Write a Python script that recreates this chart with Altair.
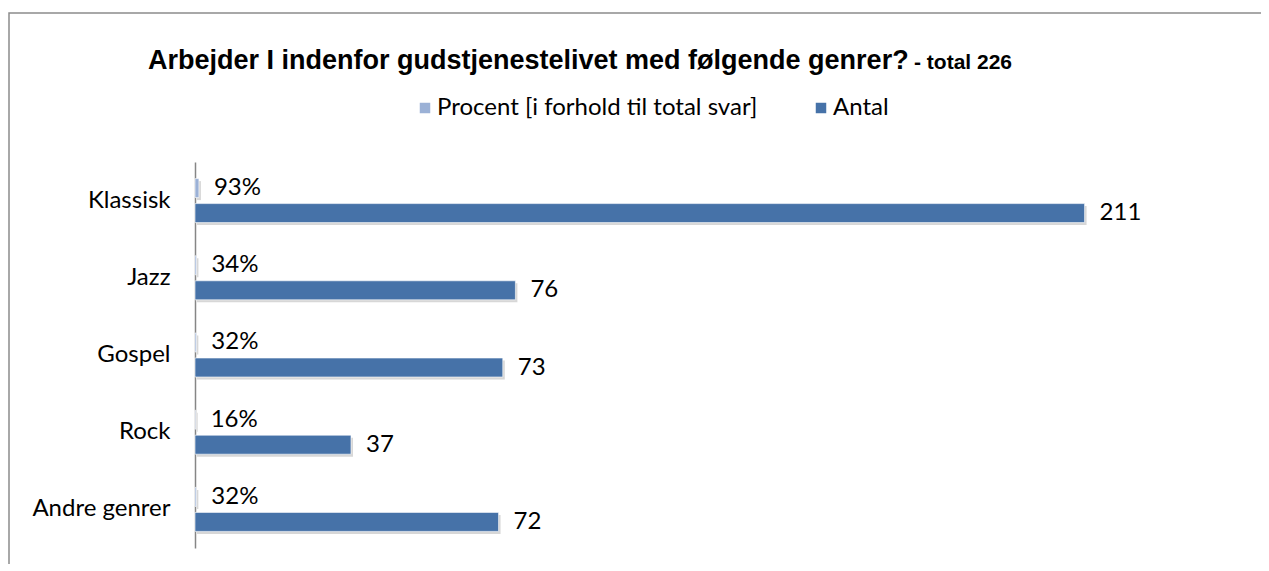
import altair as alt
import pandas as pd

categories = ["Klassisk", "Jazz", "Gospel", "Rock", "Andre genrer"]
procent = [93, 34, 32, 16, 32]
antal = [211, 76, 73, 37, 72]
series = ["Procent [i forhold til total svar]", "Antal"]
colors = ["#9BB1D6", "#4672A8"]
title_main = ["Arbejder I indenfor gudstjenestelivet med følgende genrer?"]
title_sub = ["- total 226"]

rows = []
for c, p, a in zip(categories, procent, antal):
    rows.append({"kategori": c, "serie": series[0], "vaerdi": p / 100, "tekst": f"{p}%"})
    rows.append({"kategori": c, "serie": series[1], "vaerdi": a, "tekst": str(a)})
df = pd.DataFrame(rows)

FONT = "Lato"
FS = 24

y = alt.Y(
    "kategori:N",
    sort=categories,
    scale=alt.Scale(paddingInner=0.43, paddingOuter=0.215),
    axis=alt.Axis(
        title=None, ticks=False, labelFont=FONT, labelFontSize=FS,
        labelColor="#000000", labelPadding=25, domainColor="#868686",
        domainWidth=1.5, labelLimit=400,
    ),
)
yoff = alt.YOffset("serie:N", sort=series,
                   scale=alt.Scale(paddingInner=0.24, paddingOuter=0))
x = alt.X("vaerdi:Q", scale=alt.Scale(domain=[0, 250], nice=False), axis=None)

base = alt.Chart(df)

# soft drop shadows (styling only): one layer per series, shifted a few pixels
shadows = []
for s, off in zip(series, [-10, 15]):
    shadows.append(
        base.transform_filter(alt.datum.serie == s)
        .mark_bar(color="#bdbdbd", opacity=0.6, height=19, xOffset=2, yOffset=off)
        .encode(x=x, y=y)
    )

bars = base.mark_bar(stroke="white", strokeWidth=0.6).encode(
    x=x, y=y, yOffset=yoff,
    color=alt.Color(
        "serie:N", sort=series,
        scale=alt.Scale(domain=series, range=colors),
        legend=alt.Legend(
            title=None, orient="none", legendX=218, legendY=-66,
            direction="horizontal", symbolType="square", symbolSize=110,
            symbolStrokeWidth=0, labelFont=FONT, labelFontSize=FS,
            labelColor="#000000", columnPadding=51, labelLimit=1000,
            labelOffset=0,
        ),
    ),
)

texts = base.mark_text(align="left", baseline="middle", dx=15, font=FONT,
                       fontSize=FS, color="#000000").encode(
    x=x, y=y, yOffset=yoff, text="tekst:N"
)

title = alt.Chart(pd.DataFrame({"t": title_main})).mark_text(
    align="left", baseline="alphabetic", font="Liberation Sans", fontSize=27,
    fontWeight="bold", color="#000000"
).encode(x=alt.value(-47), y=alt.value(-93), text="t:N")

sub = alt.Chart(pd.DataFrame({"t": title_sub})).mark_text(
    align="left", baseline="alphabetic", font="Liberation Sans", fontSize=21,
    fontWeight="bold", color="#000000"
).encode(x=alt.value(719), y=alt.value(-93), text="t:N")

border = alt.Chart(pd.DataFrame({"b": [0]})).mark_rect(
    fillOpacity=0, stroke="#8c8c8c", strokeWidth=1.5
).encode(x=alt.value(-186), x2=alt.value(1200), y=alt.value(-149), y2=alt.value(600))

chart = alt.layer(border, *shadows, bars, texts, title, sub).properties(
    width=1054, height=386,
    padding={"left": 187, "top": 154, "right": 12, "bottom": 16},
    autosize=alt.AutoSizeParams(type="none"),
    background="white",
).configure_view(stroke="transparent")

chart.save("out.html", embed_options={"renderer": "svg", "actions": False})
